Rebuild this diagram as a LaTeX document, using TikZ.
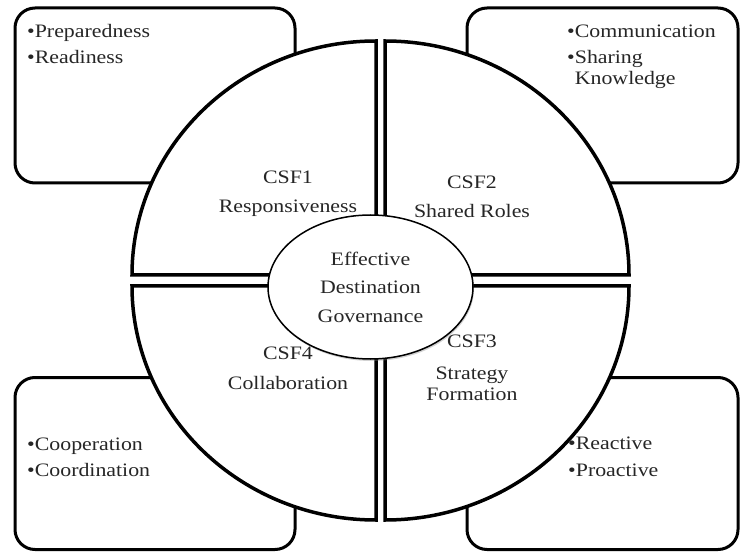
\documentclass[tikz,border=0pt]{standalone}
\usepackage{fontspec}
\usepackage{xcolor}
\usepackage{tikz}
\setmainfont{Liberation Serif}[FakeStretch=1.15]
\definecolor{inkGray}{HTML}{262626}
\usetikzlibrary{shapes.geometric,shadows}
\tikzstyle{factorBox} = [rectangle, draw, line width = 3pt, rounded corners = 20pt, fill = white]
\tikzstyle{sector} = [draw, line width = 3.5pt, fill = white, line join = miter]
\tikzstyle{hub} = [ellipse, draw, line width = 1.5pt, fill = white, minimum width = 205pt, minimum height = 144pt, inner sep = 0pt, align = center, text = inkGray, drop shadow = {shadow xshift = 1pt, shadow yshift = -2pt, opacity = 0.35}]
\tikzstyle{label} = [inner sep = 0pt, align = center, text = inkGray, anchor = base, font = \fontsize{19}{21}\selectfont]
\tikzstyle{items} = [inner sep = 0pt, align = left, text = inkGray, anchor = base west, font = \fontsize{19}{21}\selectfont]

\begin{document}
\begin{tikzpicture}[x = 1pt, y = 1pt]
        \useasboundingbox (0,0) rectangle (741,552);
        % outer boxes
        \node(boxTL) [factorBox, minimum width = 280pt, minimum height = 175pt] at (155,456.5) {};
        \node(boxTR) [factorBox, minimum width = 271pt, minimum height = 175pt] at (602.5,456.5) {};
        \node(boxBL) [factorBox, minimum width = 280pt, minimum height = 172pt] at (155,88.5) {};
        \node(boxBR) [factorBox, minimum width = 271pt, minimum height = 172pt] at (602.5,88.5) {};
        % quarter sectors
        \coordinate(cTL) at (376,277);
        \coordinate(cTR) at (385,277);
        \coordinate(cBL) at (376,266);
        \coordinate(cBR) at (385,266);
        \draw[sector] (cTL) -- ++(-244,0) arc[start angle = 180, end angle = 90, x radius = 244pt, y radius = 234pt] -- cycle;
        \draw[sector] (cTR) -- ++(0,234) arc[start angle = 90, end angle = 0, x radius = 244pt, y radius = 234pt] -- cycle;
        \draw[sector] (cBR) -- ++(244,0) arc[start angle = 0, end angle = -90, x radius = 244pt, y radius = 234pt] -- cycle;
        \draw[sector] (cBL) -- ++(0,-234) arc[start angle = 270, end angle = 180, x radius = 244pt, y radius = 234pt] -- cycle;
        % box texts (anchored on the last line)
        \node(itemsTL) [items] at (27,488) {\textbullet Preparedness\\[5pt]\textbullet Readiness};
        \node(itemsTR) [items] at (567,467) {\textbullet Communication\\[5pt]\textbullet Sharing\\\phantom{\textbullet}Knowledge};
        \node(itemsBL) [items] at (27,76) {\textbullet Cooperation\\[5pt]\textbullet Coordination};
        \node(itemsBR) [items] at (568,76) {\textbullet Reactive\\[6pt]\textbullet Proactive};
        % sector labels
        \node(csfOne) [label] at (288,339) {CSF1\\[8pt]Responsiveness};
        \node(csfTwo) [label] at (472,334) {CSF2\\[8pt]Shared Roles};
        \node(csfFour) [label] at (288,163) {CSF4\\[9pt]Collaboration};
        \node(csfThree) [label] at (472,152) {CSF3\\[11pt]Strategy\\Formation};
        % centre
        \node(EDG) [hub, font = \fontsize{19}{28.5}\selectfont] at (370.5,265) {Effective\\Destination\\Governance};
    \end{tikzpicture}
\end{document}
